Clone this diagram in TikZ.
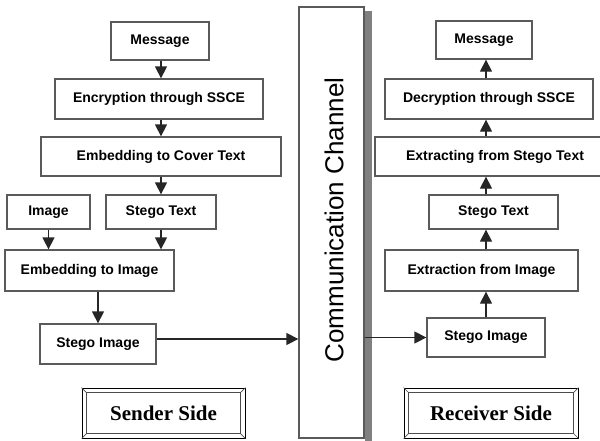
\documentclass[tikz,border=0pt]{standalone}
\usepackage{fontspec}
\setmainfont{Liberation Sans}
\newfontfamily\serifside{Liberation Serif}
\usetikzlibrary{arrows.meta}
\definecolor{edgegray}{HTML}{5A5A5A}
\definecolor{shadegray}{HTML}{808080}
\tikzset{
  stage/.style={draw=edgegray, line width=1.3pt, fill=white, align=center,
                inner sep=2pt, font=\fontsize{14}{16}\selectfont\bfseries},
  side/.style={draw=black, line width=0.9pt, minimum width=163pt, minimum height=50pt,
               font=\fontsize{21}{24}\selectfont\serifside\bfseries},
  bevel/.style={draw=black!70, line width=0.7pt},
  link/.style={-{Triangle[length=12pt, width=12pt]}, line width=1.3pt, draw=black!85},
}

\begin{document}
\begin{tikzpicture}[x=1pt, y=-1pt]
  \useasboundingbox (0,0) rectangle (600,440);
  % sender side
  \node[stage, minimum width=98pt, minimum height=38pt] (msgS) at (160,41) {Message};
  \node[stage, minimum width=208pt, minimum height=40pt] (encS) at (159,99) {Encryption through SSCE};
  \node[stage, minimum width=240pt, minimum height=39pt] (coverS) at (161,156.5) {Embedding to Cover Text};
  \node[stage, minimum width=83pt, minimum height=34pt] (imgS) at (48.5,212) {Image};
  \node[stage, minimum width=110pt, minimum height=34pt] (stTextS) at (161,212) {Stego Text};
  \node[stage, minimum width=169pt, minimum height=41pt] (embImgS) at (89.5,270.5) {Embedding to Image};
  \node[stage, minimum width=116pt, minimum height=40pt] (stImgS) at (98,344) {Stego Image};
  % channel
  \node[draw=edgegray, line width=1.3pt, fill=white, minimum width=65pt,
        minimum height=431pt] (chan) at (331.5,222.5) {};
  \node[rotate=90, font=\fontsize{26}{30}\selectfont] (chanText) at (334,220) {Communication Channel};
  \fill[shadegray] ([shift={(0.7,5)}]chan.north east) rectangle ([shift={(7,5)}]chan.south east);
  % receiver side
  \node[stage, minimum width=96pt, minimum height=38pt] (msgR) at (484,40) {Message};
  \node[stage, minimum width=208pt, minimum height=40pt] (decR) at (489,99) {Decryption through SSCE};
  \node[stage, minimum width=240pt, minimum height=39pt] (extTextR) at (495,156.5) {Extracting from Stego Text};
  \node[stage, minimum width=129pt, minimum height=34pt] (stTextR) at (493.5,212) {Stego Text};
  \node[stage, minimum width=193pt, minimum height=41pt] (extImgR) at (481.5,270.5) {Extraction from Image};
  \node[stage, minimum width=118pt, minimum height=39pt] (stImgR) at (486,337.5) {Stego Image};
  % side labels
  \node[side] (sender) at (163.5,413) {Sender Side};
  \node[side, minimum width=174pt] (receiver) at (491,413) {Receiver Side};
  \foreach \s in {sender,receiver} {
    \draw[bevel] ([shift={(5,5)}]\s.north west) rectangle ([shift={(-5,-5)}]\s.south east);
    \draw[bevel] (\s.north west) -- ([shift={(5,5)}]\s.north west)
                 (\s.north east) -- ([shift={(-5,5)}]\s.north east)
                 (\s.south west) -- ([shift={(5,-5)}]\s.south west)
                 (\s.south east) -- ([shift={(-5,-5)}]\s.south east);
  }
  % arrows
  \foreach \a/\b in {msgS/encS, encS/coverS, coverS/stTextS}
    \draw[link] (\a.south -| stTextS) -- (\b.north -| stTextS);
  \draw[link] (imgS.south) -- (imgS.south |- embImgS.north);
  \draw[link] (stTextS.south) -- (stTextS.south |- embImgS.north);
  \draw[link] (embImgS.south -| stImgS) -- (stImgS.north);
  \draw[link] ([yshift=5pt]stImgS.east) -- ([yshift=5pt]stImgS.east -| chan.west);
  \draw[link] (chan.east |- stImgR.west) -- (stImgR.west);
  \foreach \a/\b in {stImgR/extImgR, extImgR/stTextR, stTextR/extTextR, extTextR/decR, decR/msgR}
    \draw[link] (\a.north -| stImgR) -- (\b.south -| stImgR);
\end{tikzpicture}
\end{document}
